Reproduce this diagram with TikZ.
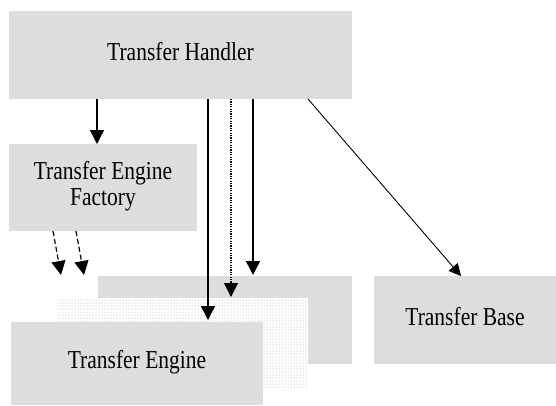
\documentclass[tikz,border=0pt]{standalone}
\usepackage{fontspec}
\setmainfont{Liberation Serif}
\usetikzlibrary{arrows.meta,patterns}
\definecolor{boxgray}{RGB}{221,221,221}
\newcommand{\lbl}[1]{\scalebox{1}[1.2]{\begin{tabular}{@{}c@{}}#1\end{tabular}}}
\begin{document}
\begin{tikzpicture}[x=1pt,y=-1pt,
  box/.style={fill=boxgray, draw=none, inner sep=0pt, outer sep=0pt,
    font=\fontsize{21.5}{21.7}\selectfont},
  shadowbox/.style={draw=none, inner sep=0pt, outer sep=0pt, preaction={fill=white},
    pattern=dots, pattern color=gray!70},
  arr/.style={-{Triangle[length=14pt,width=14pt]}, line width=1.4pt, black},
  dasharr/.style={arr, line width=1.2pt, dash pattern=on 5pt off 3pt},
  dotarr/.style={arr, line width=1.2pt, dash pattern=on 1.2pt off 1.2pt},
  thinarr/.style={-{Triangle[length=12pt,width=12pt]}, line width=0.9pt, black},
]
\useasboundingbox (0,0) rectangle (556,405);
% boxes
\node[box, minimum width=343pt, minimum height=88pt] (handler) at (180.5,55) {\lbl{Transfer Handler}};
\node[box, minimum width=188pt, minimum height=87pt] (factory) at (103,187.5) {\lbl{Transfer Engine\\Factory}};
\node[box, minimum width=254pt, minimum height=88pt] (back) at (225,320) {};
\node[shadowbox, minimum width=251pt, minimum height=89pt] (shadow) at (182.5,342.5) {};
\node[box, minimum width=252pt, minimum height=83pt] (engine) at (137,363.5) {\lbl{Transfer Engine}};
\node[box, minimum width=182pt, minimum height=88pt] (base) at (465,320) {\lbl{Transfer Base}};
% helper coordinates
\coordinate (a1) at (97,0);
\coordinate (d1) at (53,0);
\coordinate (d2) at (76,0);
\coordinate (d1e) at (61,275);
\coordinate (d2e) at (84,275);
\coordinate (v1) at (208,0);
\coordinate (v2) at (231,0);
\coordinate (v3) at (253,0);
\coordinate (g1) at (308,0);
\coordinate (g2) at (461,0);
% connectors
\draw[arr] (handler.south -| a1) -- (factory.north -| a1);
\draw[dasharr] (factory.south -| d1) -- (d1e);
\draw[dasharr] (factory.south -| d2) -- (d2e);
\draw[arr, shorten >=2pt] (handler.south -| v1) -- (engine.north -| v1);
\draw[dotarr, shorten >=1pt] (handler.south -| v2) -- (shadow.north -| v2);
\draw[arr, shorten >=1pt] (handler.south -| v3) -- (back.north -| v3);
\draw[thinarr] (handler.south -| g1) -- (base.north -| g2);
\end{tikzpicture}
\end{document}
